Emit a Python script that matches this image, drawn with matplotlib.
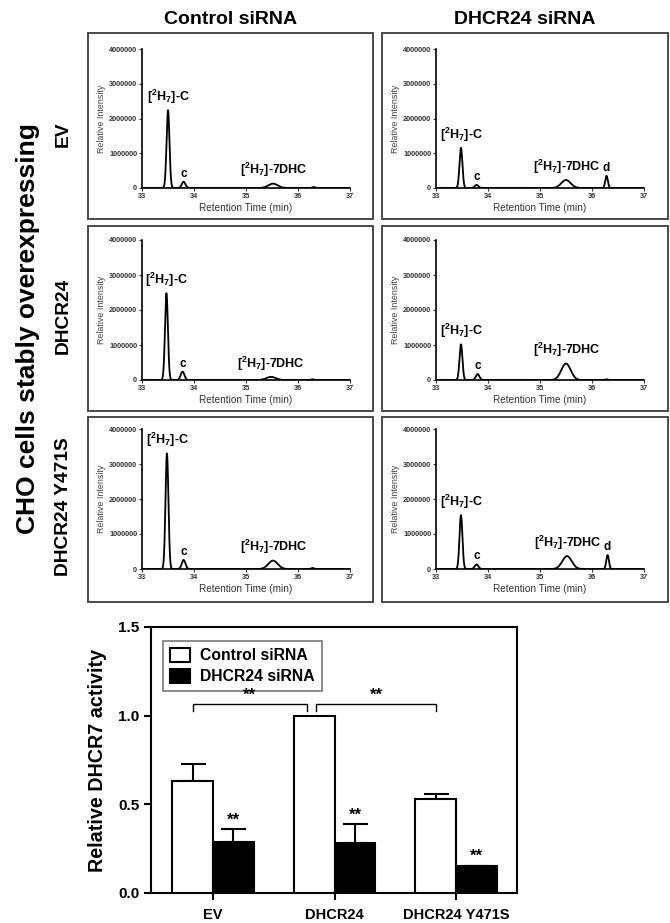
import numpy as np
import matplotlib
matplotlib.use("Agg")
import matplotlib.pyplot as plt
from matplotlib.patches import Rectangle

plt.rcParams['font.family'] = ['Liberation Sans', 'DejaVu Sans']
plt.rcParams['font.weight'] = 'bold'
plt.rcParams['mathtext.fontset'] = 'custom'
plt.rcParams['mathtext.rm'] = 'Liberation Sans:bold'
plt.rcParams['mathtext.it'] = 'Liberation Sans:bold'
plt.rcParams['mathtext.bf'] = 'Liberation Sans:bold'

# ---------------- data ----------------
col_titles = ["Control siRNA", "DHCR24 siRNA"]
row_titles = ["EV", "DHCR24", "DHCR24 Y471S"]
side_title = "CHO cells stably overexpressing"

# peak tables per panel: (retention time, height, width sigma)
# rows: EV, DHCR24, DHCR24 Y471S ; cols: control, DHCR24 siRNA
peak_times = [[[33.50, 33.80, 35.52, 36.30], [33.48, 33.78, 35.50, 36.28]],
              [[33.47, 33.78, 35.48, 36.28], [33.48, 33.80, 35.50, 36.28]],
              [[33.48, 33.80, 35.52, 36.28], [33.48, 33.78, 35.52, 36.30]]]
peak_heights = [[[2240000, 180000, 125000, 30000], [1160000, 90000, 230000, 350000]],
                [[2480000, 240000, 90000, 20000], [1020000, 170000, 470000, 20000]],
                [[3300000, 260000, 240000, 30000], [1540000, 130000, 370000, 400000]]]
peak_widths = [0.028, 0.035, 0.09, 0.025]
LAB_C = "[$^2$H$_7$]-C"
LAB_7 = "[$^2$H$_7$]-7DHC"
peak_labels = [[[LAB_C, "c", LAB_7, None], [LAB_C, "c", LAB_7, "d"]],
               [[LAB_C, "c", LAB_7, None], [LAB_C, "c", LAB_7, None]],
               [[LAB_C, "c", LAB_7, None], [LAB_C, "c", LAB_7, "d"]]]
rt_ticks = [33, 34, 35, 36, 37]
int_ticks = [0, 1000000, 2000000, 3000000, 4000000]

groups = ["EV", "DHCR24", "DHCR24 Y471S"]
control_vals = [0.63, 1.00, 0.53]
control_err = [0.10, 0.0, 0.03]
sirna_vals = [0.29, 0.28, 0.15]
sirna_err = [0.07, 0.11, 0.005]
bar_ticks = [0.0, 0.5, 1.0, 1.5]

# ---------------- figure ----------------
W, H = 670, 923
fig = plt.figure(figsize=(W / 100, H / 100), dpi=100)


def fx(px):
    return px / W


def fy(py):
    return 1 - py / H


# frames
col_frames = [(88, 373), (382, 668)]
row_frames = [(33, 219), (226, 411), (417, 602)]
for (x0, x1) in col_frames:
    for (y0, y1) in row_frames:
        fig.patches.append(Rectangle((fx(x0), fy(y1)), fx(x1 - x0), (y1 - y0) / H,
                                     transform=fig.transFigure, fill=False,
                                     edgecolor='#4a4a4a', linewidth=1.4))

col_axes_x = [(142, 350), (436, 644)]
row_axes_y = [(49, 188), (240, 380), (429, 569)]
label_offsets = {LAB_C: 3, LAB_7: 3, "c": 1.5, "d": 1.5}

t = np.linspace(33, 37, 1200)
for r in range(3):
    for c in range(2):
        x0, x1 = col_axes_x[c]
        y0, y1 = row_axes_y[r]
        ax = fig.add_axes([fx(x0), fy(y1), fx(x1 - x0), (y1 - y0) / H])
        sig = np.zeros_like(t)
        for tm, h, w in zip(peak_times[r][c], peak_heights[r][c], peak_widths):
            sig += h * np.exp(-0.5 * ((t - tm) / w) ** 2)
        ax.plot(t, sig, color='black', lw=1.3)
        ax.set_xlim(33, 37)
        ax.set_ylim(0, 4000000)
        ax.spines['top'].set_visible(False)
        ax.spines['right'].set_visible(False)
        ax.spines['left'].set_linewidth(1.2)
        ax.spines['bottom'].set_linewidth(1.2)
        ax.set_xticks(rt_ticks)
        ax.set_yticks(int_ticks)
        ax.set_yticklabels([str(v) for v in int_ticks])
        ax.tick_params(labelsize=5.3, length=2, width=0.8, pad=1.5, colors='#333333')
        ax.set_xlabel("Retention Time (min)", fontsize=7.2, labelpad=2.5, color='#333333')
        ax.set_ylabel("Relative Intensity", fontsize=6.4, labelpad=2, color='#444444',
                      fontweight='normal')
        for tm, h, lab in zip(peak_times[r][c], peak_heights[r][c], peak_labels[r][c]):
            if lab is None:
                continue
            fs = 9 if lab in (LAB_C, LAB_7) else 8.5
            ax.annotate(lab, (tm, h), xytext=(0, label_offsets[lab]),
                        textcoords='offset points', ha='center', va='bottom',
                        fontsize=fs, fontweight='bold')

# column titles
for (x0, x1), ttl in zip(col_frames, col_titles):
    fig.text(fx((x0 + x1) / 2), fy(20), ttl, ha='center', va='center', fontsize=14,
             fontweight='bold')
# row titles
row_label_y = [134, 316, 507]
for yc, ttl in zip(row_label_y, row_titles):
    fig.text(fx(63), fy(yc), ttl, ha='center', va='center', fontsize=13.8,
             fontweight='bold', rotation=90)
fig.text(fx(28), fy(329), side_title, ha='center', va='center', fontsize=19,
         fontweight='bold', rotation=90)

# ---------------- bar chart ----------------
bx0, bx1, by0, by1 = 151, 517, 627, 893
bax = fig.add_axes([fx(bx0), fy(by1), fx(bx1 - bx0), (by1 - by0) / H])
x = np.arange(len(groups))
bw = 0.335
bax.bar(x - bw / 2, control_vals, bw, color='white', edgecolor='black', linewidth=1.5,
        label=col_titles[0], zorder=3)
bax.bar(x + bw / 2, sirna_vals, bw, color='black', edgecolor='black', linewidth=1.5,
        label=col_titles[1], zorder=3)
for xi, v, e in zip(x - bw / 2, control_vals, control_err):
    if e > 0:
        bax.errorbar([xi], [v], yerr=[[0], [e]], fmt='none', ecolor='black',
                     elinewidth=1.5, capsize=9, capthick=1.5, zorder=2)
for xi, v, e in zip(x + bw / 2, sirna_vals, sirna_err):
    if e > 0:
        bax.errorbar([xi], [v], yerr=[[0], [e]], fmt='none', ecolor='black',
                     elinewidth=1.5, capsize=9, capthick=1.5, zorder=2)
    bax.annotate("**", (xi, v + e), xytext=(0, 1), textcoords='offset points',
                 ha='center', va='bottom', fontsize=12, fontweight='bold')


def bracket(xa, xb, y, leg):
    bax.plot([xa, xa, xb, xb], [y - leg, y, y, y - leg], color='black', lw=1.0)
    bax.text((xa + xb) / 2, y + 0.005, "**", ha='center', va='bottom', fontsize=12,
             fontweight='bold', zorder=6)


bracket(x[0] - bw / 2, x[1] - bw / 2 - 0.06, 1.066, 0.04)
bracket(x[1] - bw / 2 + 0.015, x[2] - bw / 2, 1.066, 0.04)

bax.set_xlim(-0.51, 2.5)
bax.set_ylim(0, 1.5)
bax.set_yticks(bar_ticks)
bax.set_yticklabels([f"{v:.1f}" for v in bar_ticks])
bax.set_xticks(x)
bax.set_xticklabels(groups)
bax.tick_params(axis='both', labelsize=11, width=1.5, length=5)
bax.tick_params(axis='x', labelsize=10.5, pad=6)
for s in bax.spines.values():
    s.set_linewidth(1.5)
bax.set_ylabel("Relative DHCR7 activity", fontsize=14.2, fontweight='bold', labelpad=8)
leg = bax.legend(loc='upper left', bbox_to_anchor=(12 / 366, 1 - 14 / 266), fontsize=11.3,
                 frameon=True, fancybox=False, edgecolor='#555555', handlelength=1.3,
                 handleheight=1.0, borderpad=0.45, labelspacing=0.35, handletextpad=0.6,
                 borderaxespad=0)
leg.get_frame().set_linewidth(1.2)

fig.savefig("out.png", dpi=100)
